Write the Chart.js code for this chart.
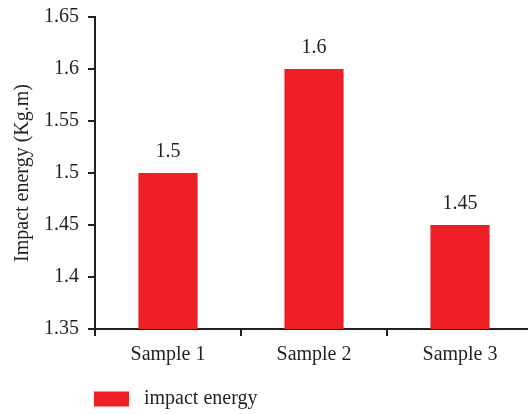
<!DOCTYPE html>
<html>
<head>
<meta charset="utf-8">
<script src="https://cdn.jsdelivr.net/npm/chart.js@4/dist/chart.umd.min.js"></script>
<style>
  html, body { margin: 0; padding: 0; background: #ffffff; overflow: hidden; }
  #wrap { width: 528px; height: 414px; overflow: hidden; }
  canvas { display: block; }
</style>
</head>
<body>
<div id="wrap"><canvas id="chart" width="540" height="414"></canvas></div>
<script>
const categories = ['Sample 1', 'Sample 2', 'Sample 3'];
const impactEnergy = [1.5, 1.6, 1.45];
const yTicks = [1.35, 1.4, 1.45, 1.5, 1.55, 1.6, 1.65];
const seriesName = 'impact energy';
const yTitle = 'Impact energy (Kg.m)';

const INK = '#231f20';
const RED = '#ee1f25';
const FONT = { family: '"Liberation Serif", "Times New Roman", serif', size: 20 };

const fmt = v => String(+v.toFixed(2));

// value labels above each bar
const valueLabels = {
  id: 'valueLabels',
  afterDatasetsDraw(chart) {
    const ctx = chart.ctx;
    const meta = chart.getDatasetMeta(0);
    ctx.save();
    ctx.font = `${FONT.size}px ${FONT.family}`;
    ctx.fillStyle = INK;
    ctx.textAlign = 'center';
    ctx.textBaseline = 'middle';
    meta.data.forEach((bar, i) => {
      ctx.fillText(fmt(impactEnergy[i]), bar.x, bar.y - 21);
    });
    ctx.restore();
  }
};

// line the legend up with the plot's left edge and push it toward the bottom
const legendShift = {
  id: 'legendShift',
  afterLayout(chart) {
    const lg = chart.legend;
    const dx = chart.chartArea.left - 11 - lg.left;
    const dy = 5;
    lg.left += dx;
    lg.right += dx;
    lg.top += dy;
    lg.bottom += dy;
  }
};

new Chart(document.getElementById('chart'), {
  type: 'bar',
  data: {
    labels: categories,
    datasets: [{
      label: seriesName,
      data: impactEnergy,
      backgroundColor: RED,
      borderWidth: 0,
      barPercentage: 0.405,
      categoryPercentage: 1.0
    }]
  },
  options: {
    responsive: false,
    animation: false,
    layout: { padding: { top: 17, right: 7, left: 0, bottom: 0 } },
    plugins: {
      tooltip: { enabled: false },
      legend: {
        position: 'bottom',
        align: 'start',
        labels: {
          boxWidth: 35,
          boxHeight: 15,
          color: INK,
          font: FONT,
          padding: 10,
          generateLabels(chart) {
            const items = Chart.defaults.plugins.legend.labels.generateLabels(chart);
            items.forEach(it => { it.text = ' ' + it.text; });
            return items;
          }
        }
      }
    },
    scales: {
      x: {
        grid: { display: true, drawOnChartArea: false, drawTicks: true, tickLength: 7, color: INK, lineWidth: 2, offset: true },
        border: { display: true, color: INK, width: 2 },
        ticks: { color: INK, font: FONT, padding: 7 }
      },
      y: {
        min: 1.35,
        max: 1.65,
        afterBuildTicks(scale) {
          scale.ticks = yTicks.map(v => ({ value: v }));
        },
        afterFit(scale) {
          scale.width = 95;
          scale.paddingTop = 0;
          scale.paddingBottom = 0;
        },
        grid: { display: true, drawOnChartArea: false, drawTicks: true, tickLength: 7, color: INK, lineWidth: 2 },
        border: { display: true, color: INK, width: 2 },
        ticks: { color: INK, font: FONT, padding: 9, callback: v => fmt(v) },
        title: {
          display: true,
          text: yTitle,
          color: INK,
          font: FONT,
          padding: { top: 11, bottom: 4 }
        }
      }
    }
  },
  plugins: [valueLabels, legendShift]
});
</script>
</body>
</html>
